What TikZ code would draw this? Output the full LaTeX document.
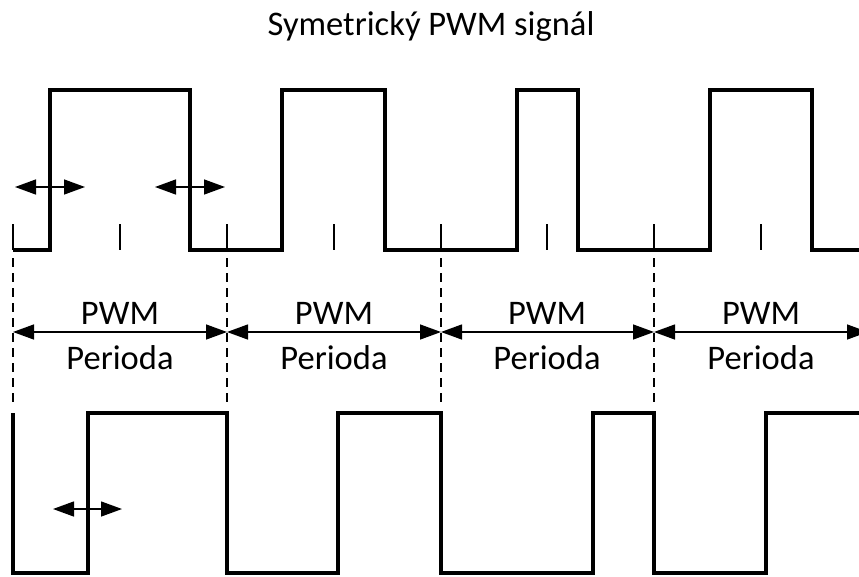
\documentclass[tikz,border=0pt]{standalone}
\usepackage{fontspec}
\setmainfont{Carlito}
\usepackage{xcolor}
\newcommand{\PwmTitle}
{Symetrický PWM signál}
\newcommand{\PwmTop}
{PWM}
\newcommand{\PwmBottom}
{Perioda}
\usetikzlibrary{arrows.meta}

\begin{document}
\begin{tikzpicture}[x=1pt, y=-1pt,
    signal/.style={line width=4pt, line join=miter},
    tickmark/.style={line width=1.4pt},
    divider/.style={line width=1.3pt, dash pattern=on 9pt off 6pt},
    dimarrow/.style={line width=1.4pt, {Triangle[length=21pt,width=15pt]}-{Triangle[length=21pt,width=15pt]}},
    lbl/.style={font=\fontsize{34.5}{40}\selectfont, inner sep=0pt}]
    % Define page
    \clip (0,0) rectangle (859,576);
    \fill[white] (0,0) rectangle (859,576);

    % Title
    \node[lbl, anchor=base] (title) at (431,35) {\PwmTitle};

    % Centre-aligned PWM signal
    \draw[signal] (13,250) -- (50,250) -- (50,90) -- (190,90) -- (190,250)
        -- (282,250) -- (282,90) -- (385,90) -- (385,250)
        -- (517,250) -- (517,90) -- (578,90) -- (578,250)
        -- (710,250) -- (710,90) -- (812,90) -- (812,250) -- (859,250);

    % Tick marks
    \draw[tickmark] (13,224) -- (13,250);
    \draw[tickmark] (120,224) -- (120,250);
    \draw[tickmark] (227,224) -- (227,250);
    \draw[tickmark] (334,224) -- (334,250);
    \draw[tickmark] (441,224) -- (441,250);
    \draw[tickmark] (547,224) -- (547,250);
    \draw[tickmark] (654,224) -- (654,250);
    \draw[tickmark] (761,224) -- (761,250);

    % Edge-aligned PWM signal
    \draw[signal] (13,413) -- (13,573) -- (88,573) -- (88,413) -- (227,413)
        -- (227,573) -- (338,573) -- (338,413) -- (441,413)
        -- (441,573) -- (593,573) -- (593,413) -- (654,413)
        -- (654,573) -- (766,573) -- (766,413) -- (859,413);

    % Period boundaries
    \draw[divider] (13,258) -- (13,405);
    \draw[divider] (227,258) -- (227,405);
    \draw[divider] (441,258) -- (441,405);
    \draw[divider] (654,258) -- (654,405);

    % Period arrows
    \coordinate (p0) at (13,332);
    \coordinate (p1) at (227,332);
    \coordinate (p2) at (441,332);
    \coordinate (p3) at (654,332);
    \coordinate (p4) at (868,332);
    \draw[dimarrow] (p0) -- (p1);
    \draw[dimarrow] (p1) -- (p2);
    \draw[dimarrow] (p2) -- (p3);
    \draw[dimarrow] (p3) -- (p4);

    % Period labels
    \node[lbl] (pwm1) at (120,313) {\PwmTop};
    \node[lbl] (per1) at (120,358) {\PwmBottom};
    \node[lbl] (pwm2) at (334,313) {\PwmTop};
    \node[lbl] (per2) at (334,358) {\PwmBottom};
    \node[lbl] (pwm3) at (547,313) {\PwmTop};
    \node[lbl] (per3) at (547,358) {\PwmBottom};
    \node[lbl] (pwm4) at (761,313) {\PwmTop};
    \node[lbl] (per4) at (761,358) {\PwmBottom};

    % Edge shift arrows
    \coordinate (a1) at (15,187);
    \coordinate (b1) at (85,187);
    \coordinate (a2) at (155,187);
    \coordinate (b2) at (225,187);
    \coordinate (a3) at (53,509);
    \coordinate (b3) at (122,509);
    \draw[dimarrow] (a1) -- (b1);
    \draw[dimarrow] (a2) -- (b2);
    \draw[dimarrow] (a3) -- (b3);

\end{tikzpicture}
\end{document}
